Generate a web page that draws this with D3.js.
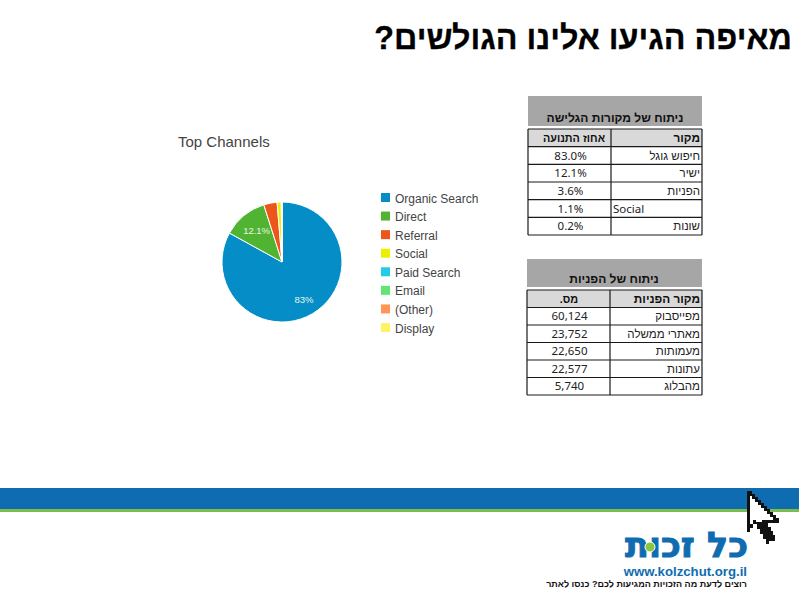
<!DOCTYPE html>
<html lang="he">
<head>
<meta charset="utf-8">
<style>
  html, body { margin: 0; padding: 0; background: #fff; }
  svg { display: block; }
</style>
<script src="https://cdnjs.cloudflare.com/ajax/libs/d3/7.8.5/d3.min.js"></script>
</head>
<body>
<div id="chart"></div>
<script>
var pageTitle = 'מאיפה הגיעו אלינו הגולשים?';

// pie
var channels = ['Organic Search', 'Direct', 'Referral', 'Social', 'Paid Search', 'Email', '(Other)', 'Display'];
var channelShares = [83, 12.1, 3.6, 1.1, 0.08, 0.06, 0.04, 0.02];
var channelColors = ['#058dc7', '#50b432', '#ed561b', '#edef00', '#24cbe5', '#64e572', '#ff9655', '#fff263'];
var sliceLabels = ['83%', '12.1%', '', '', '', '', '', ''];

// first table
var sourceTitle = 'ניתוח של מקורות הגלישה';
var sourceHeader = ['מקור', 'אחוז התנועה'];
var sourceNames = ['חיפוש גוגל', 'ישיר', 'הפניות', 'Social', 'שונות'];
var sourceValues = ['83.0%', '12.1%', '3.6%', '1.1%', '0.2%'];

// second table
var referralTitle = 'ניתוח של הפניות';
var referralHeader = ['מקור הפניות', 'מס.'];
var referralNames = ['מפייסבוק', 'מאתרי ממשלה', 'מעמותות', 'עתונות', 'מהבלוג'];
var referralValues = [60124, 23752, 22650, 22577, 5740];

var svg = d3.select('#chart').append('svg')
  .attr('width', 800)
  .attr('height', 600);

var sans = '"Liberation Sans", Arial, sans-serif';
var tableFont = '"Noto Sans", "Liberation Sans", sans-serif';

svg.append('text')
  .attr('x', 792)
  .attr('y', 49)
  .attr('direction', 'rtl')
  .attr('font-family', sans)
  .attr('font-size', 32.3)
  .attr('font-weight', 'bold')
  .attr('fill', '#000')
  .attr('stroke', '#000')
  .attr('stroke-width', 0.3)
  .text(pageTitle);

drawPie();
drawTable({
  title: sourceTitle, header: sourceHeader, names: sourceNames,
  values: sourceValues, left: 528, split: 611, right: 702,
  greyTop: 96, top: 129, bottom: 235, titleX: 615, headerX: 574
});
drawTable({
  title: referralTitle, header: referralHeader, names: referralNames,
  values: referralValues.map(d3.format(',')), left: 527, split: 610, right: 702,
  greyTop: 259, top: 290, bottom: 395, titleX: 614, headerX: 569
});
drawFooter();

function drawPie () {
  var cx = 282, cy = 262, radius = 60;
  var g = svg.append('g').attr('transform', 'translate(' + cx + ',' + cy + ')');
  var pie = d3.pie().sort(null);
  var arcs = pie(channelShares);
  var arc = d3.arc().innerRadius(0).outerRadius(radius);

  g.selectAll('path')
    .data(arcs)
    .join('path')
    .attr('d', arc)
    .attr('fill', function (d, i) { return channelColors[i]; })
    .attr('stroke', '#fff')
    .attr('stroke-width', 1);

  var labelArc = d3.arc().innerRadius(40).outerRadius(40);
  g.selectAll('text')
    .data(arcs)
    .join('text')
    .attr('transform', function (d, i) {
      // the big slice label sits low in the slice, like GA draws it
      var p = i === 0 ? [22, 38] : labelArc.centroid(d);
      return 'translate(' + p + ')';
    })
    .attr('text-anchor', 'middle')
    .attr('dy', '0.35em')
    .attr('font-family', sans)
    .attr('font-size', 9.5)
    .attr('fill', '#e8f4e8')
    .text(function (d, i) { return sliceLabels[i]; });

  svg.append('text')
    .attr('x', 178)
    .attr('y', 147)
    .attr('font-family', sans)
    .attr('font-size', 15)
    .attr('fill', '#444')
    .text('Top Channels');

  // legend
  var y = d3.scalePoint().domain(channels).range([198, 328]);
  var rows = svg.append('g').selectAll('g')
    .data(channels)
    .join('g')
    .attr('transform', function (d) { return 'translate(381,' + y(d) + ')'; });
  rows.append('rect')
    .attr('x', 0).attr('y', -5)
    .attr('width', 9).attr('height', 9)
    .attr('fill', function (d, i) { return channelColors[i]; });
  rows.append('text')
    .attr('x', 14)
    .attr('y', 4.5)
    .attr('font-family', sans)
    .attr('font-size', 12)
    .attr('fill', '#444')
    .text(function (d) { return d; });
}

function drawTable (t) {
  var g = svg.append('g');
  var y = d3.scaleBand().domain(d3.range(t.names.length + 1)).range([t.top, t.bottom]);

  g.append('rect')
    .attr('x', t.left).attr('y', t.greyTop)
    .attr('width', t.right - t.left).attr('height', t.top - 3 - t.greyTop)
    .attr('fill', '#a6a6a6');
  g.append('text')
    .attr('x', t.titleX)
    .attr('y', t.top - 7)
    .attr('direction', 'rtl')
    .attr('text-anchor', 'middle')
    .attr('font-family', sans)
    .attr('font-size', 12)
    .attr('font-weight', 'bold')
    .attr('fill', '#111')
    .text(t.title);

  g.append('rect')
    .attr('x', t.left).attr('y', y(0))
    .attr('width', t.right - t.left).attr('height', y.bandwidth())
    .attr('fill', '#d9d9d9');

  // row and column rules
  g.selectAll('line.row')
    .data(d3.range(t.names.length + 2))
    .join('line')
    .attr('class', 'row')
    .attr('x1', t.left).attr('x2', t.right)
    .attr('y1', function (i) { return t.top + i * y.step(); })
    .attr('y2', function (i) { return t.top + i * y.step(); })
    .attr('stroke', '#1a1a1a')
    .attr('stroke-width', 1.2);
  g.selectAll('line.col')
    .data([t.left, t.split, t.right])
    .join('line')
    .attr('class', 'col')
    .attr('x1', function (d) { return d; }).attr('x2', function (d) { return d; })
    .attr('y1', t.top).attr('y2', t.bottom)
    .attr('stroke', '#1a1a1a')
    .attr('stroke-width', 1.2);

  // header
  g.append('text')
    .attr('x', t.right - 2).attr('y', y(0) + y.bandwidth() / 2 + 4)
    .attr('direction', 'rtl')
    .attr('font-family', sans).attr('font-size', 11.8).attr('font-weight', 'bold')
    .attr('fill', '#111')
    .text(t.header[0]);
  g.append('text')
    .attr('x', t.headerX).attr('y', y(0) + y.bandwidth() / 2 + 4)
    .attr('direction', 'rtl')
    .attr('text-anchor', 'middle')
    .attr('font-family', sans).attr('font-size', 10.8).attr('font-weight', 'bold')
    .attr('fill', '#111')
    .text(t.header[1]);

  // body
  t.names.forEach(function (name, i) {
    var rowY = y(i + 1) + y.bandwidth() / 2 + 4;
    var isLatin = /^[A-Za-z]/.test(name);
    g.append('text')
      .attr('x', isLatin ? t.split + 2 : t.right - 2)
      .attr('y', rowY)
      .attr('direction', isLatin ? 'ltr' : 'rtl')
      .attr('font-family', isLatin ? tableFont : sans)
      .attr('font-size', 11.5)
      .attr('fill', '#222')
      .text(name);
    g.append('text')
      .attr('x', (t.left + t.split) / 2 + 1)
      .attr('y', rowY)
      .attr('text-anchor', 'middle')
      .attr('font-family', tableFont)
      .attr('font-size', 11.5)
      .attr('fill', '#222')
      .text(t.values[i]);
  });
}

function drawFooter () {
  svg.append('rect').attr('x', 0).attr('y', 488).attr('width', 799).attr('height', 21).attr('fill', '#0f6cb0');
  svg.append('rect').attr('x', 0).attr('y', 509).attr('width', 799).attr('height', 3).attr('fill', '#7cbc4a');

  svg.append('text')
    .attr('x', 748).attr('y', 557)
    .attr('direction', 'rtl')
    .attr('font-family', '"DejaVu Sans", sans-serif')
    .attr('font-size', 35)
    .attr('font-weight', 'bold')
    .attr('fill', '#0f6cb0')
    .attr('stroke', '#0f6cb0')
    .attr('stroke-width', 1)
    .text('כל זכות');
  svg.append('circle').attr('cx', 650).attr('cy', 547).attr('r', 5).attr('fill', '#8cc63f').attr('stroke', '#fff');

  svg.append('text')
    .attr('x', 747).attr('y', 575.5)
    .attr('text-anchor', 'end')
    .attr('font-family', sans)
    .attr('font-size', 13.2)
    .attr('font-weight', 'bold')
    .attr('fill', '#0f6cb0')
    .text('www.kolzchut.org.il');
  svg.append('text')
    .attr('x', 747).attr('y', 587)
    .attr('direction', 'rtl')
    .attr('font-family', sans)
    .attr('font-size', 9)
    .attr('font-weight', 'bold')
    .attr('fill', '#111')
    .text('רוצים לדעת מה הזכויות המגיעות לכם? כנסו לאתר');

  // pixel arrow cursor, black outline then white inside
  svg.append('path')
    .attr('d', 'M747 491H752V494H755V497H758V500H761V503H764V506H767V509H770V512H773V515H776V518H779V523H768V527H771V531H773V535H775V541H769V544H766V539H763V534H760V529H757V524H753V528H750V532H747Z')
    .attr('fill', '#111')
    .attr('shape-rendering', 'crispEdges');
  svg.append('path')
    .attr('d', 'M750 496H752V499H755V502H758V505H761V508H764V511H767V514H770V517H773V520H762V522H756V520H753V524H750Z')
    .attr('fill', '#fff')
    .attr('shape-rendering', 'crispEdges');
}
</script>
</body>
</html>
